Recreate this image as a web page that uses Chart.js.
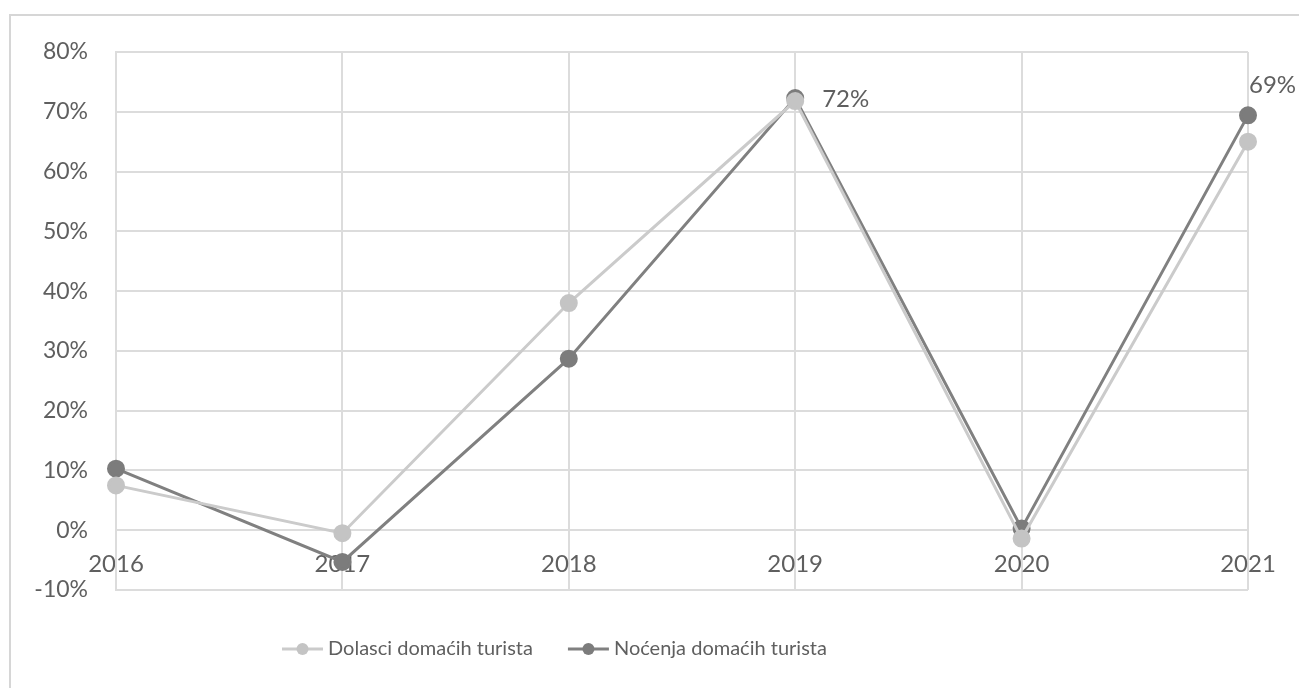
<!DOCTYPE html>
<html>
<head>
<meta charset="utf-8">
<script src="https://cdn.jsdelivr.net/npm/chart.js@4.4.1/dist/chart.umd.min.js"></script>
<style>
  html, body { margin: 0; padding: 0; background: #fff; }
  #frame { position: absolute; left: 9px; top: 14px; width: 1300px; height: 690px; border-left: 2px solid #d6d6d6; border-top: 2px solid #d6d6d6; }
  #wrap { position: absolute; left: 0; top: 0; width: 1299px; height: 688px; }
</style>
</head>
<body>
<div id="frame"></div>
<div id="wrap"><canvas id="c" width="1299" height="688"></canvas></div>
<script>
const categories = ['2016', '2017', '2018', '2019', '2020', '2021'];
const dolasci = [7.5, -0.5, 38.0, 71.8, -1.4, 65.0];
const nocenja = [10.3, -5.3, 28.7, 72.3, 0.3, 69.4];
const seriesNames = ['Dolasci domaćih turista', 'Noćenja domaćih turista'];
const labelledPoints = [[1, 3], [1, 5]]; // [datasetIndex, pointIndex]
const yTicks = [-10, 0, 10, 20, 30, 40, 50, 60, 70, 80];

const FONT = 'Lato, "Open Sans", sans-serif';
const TXT = '#5f5f5f';

const labelPlugin = {
  id: 'pointLabels',
  afterDatasetsDraw(chart) {
    const ctx = chart.ctx;
    ctx.save();
    ctx.font = '24px ' + FONT;
    ctx.fillStyle = TXT;
    ctx.textBaseline = 'middle';
    ctx.textAlign = 'left';
    labelledPoints.forEach(([di, pi]) => {
      const el = chart.getDatasetMeta(di).data[pi];
      const v = chart.data.datasets[di].data[pi];
      const t = Math.round(v) + '%';
      if (pi === chart.data.labels.length - 1) {
        ctx.fillText(t, el.x + 1, el.y - 30);
      } else {
        ctx.fillText(t, el.x + 27, el.y + 1);
      }
    });
    ctx.restore();
  }
};

const legendPlugin = {
  id: 'customLegend',
  afterDraw(chart) {
    const ctx = chart.ctx;
    ctx.save();
    ctx.font = '20px ' + FONT;
    ctx.textBaseline = 'middle';
    const y = 649;
    let x = 282;
    chart.data.datasets.forEach((ds) => {
      ctx.strokeStyle = ds.borderColor;
      ctx.lineWidth = 3;
      ctx.beginPath(); ctx.moveTo(x, y); ctx.lineTo(x + 41, y); ctx.stroke();
      ctx.fillStyle = ds.pointBackgroundColor;
      ctx.beginPath(); ctx.arc(x + 20.5, y, 6, 0, Math.PI * 2); ctx.fill();
      ctx.fillStyle = TXT;
      ctx.textAlign = 'left';
      ctx.fillText(ds.label, x + 46, y);
      x += 46 + ctx.measureText(ds.label).width + 35;
    });
    ctx.restore();
  }
};

new Chart(document.getElementById('c'), {
  type: 'line',
  data: {
    labels: categories,
    datasets: [
      { label: seriesNames[0], data: dolasci, borderColor: '#cbcbcb', backgroundColor: '#c4c4c4',
        pointBackgroundColor: '#c4c4c4', pointBorderColor: '#c4c4c4', borderWidth: 3, pointRadius: 7.5, tension: 0 },
      { label: seriesNames[1], data: nocenja, borderColor: '#808080', backgroundColor: '#7c7c7c',
        pointBackgroundColor: '#7c7c7c', pointBorderColor: '#7c7c7c', borderWidth: 3, pointRadius: 7.5, tension: 0 }
    ]
  },
  options: {
    responsive: false,
    animation: false,
    layout: { padding: { left: 0, right: 51, top: 52, bottom: 98 } },
    plugins: { legend: { display: false }, tooltip: { enabled: false } },
    scales: {
      x: {
        position: { y: 0 },
        offset: false,
        grid: { color: '#dcdcdc', lineWidth: 2, drawTicks: false },
        border: { display: false },
        ticks: { color: TXT, font: { family: FONT, size: 24 }, padding: 20, maxRotation: 0 }
      },
      y: {
        min: -10, max: 80,
        afterBuildTicks(scale) { scale.ticks = yTicks.map(v => ({ value: v })); },
        afterFit(scale) { scale.width = 116; },
        grid: { color: '#dcdcdc', lineWidth: 2, drawTicks: false },
        border: { display: true, color: '#dcdcdc', width: 2 },
        ticks: { color: TXT, font: { family: FONT, size: 23 }, padding: 28, callback: v => v + '%' }
      }
    }
  },
  plugins: [labelPlugin, legendPlugin]
});
</script>
</body>
</html>
